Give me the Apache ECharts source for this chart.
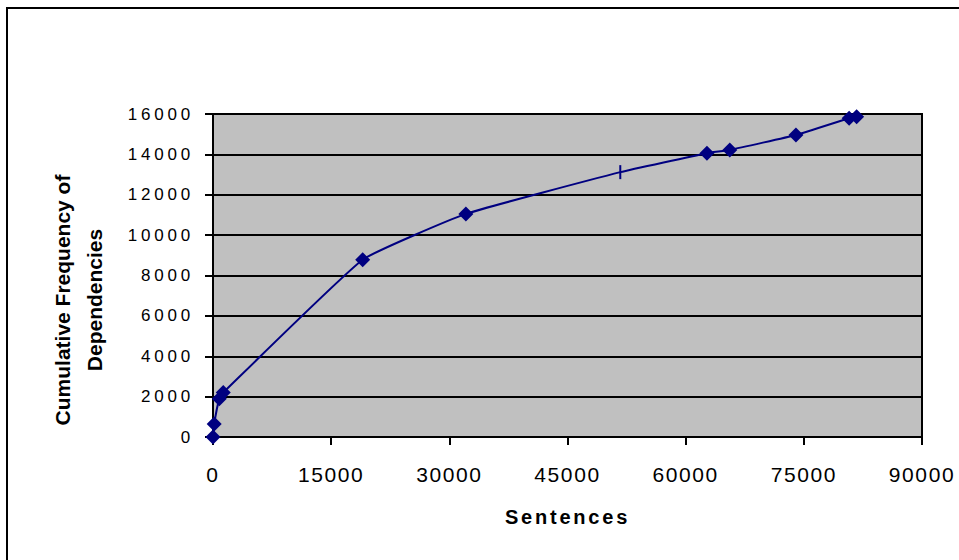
<!DOCTYPE html>
<html>
<head>
<meta charset="utf-8">
<script src="https://cdn.jsdelivr.net/npm/echarts@6/dist/echarts.min.js"></script>
<style>
  html, body { margin: 0; padding: 0; background: #fff; }
  #chart { width: 959px; height: 560px; }
</style>
</head>
<body>
<div id="chart"></div>
<script>
// Cumulative dependency counts against number of sentences
const sentences = [0, 150, 800, 1300, 19000, 32100, 51700, 62700, 65600, 74000, 80750, 81700];
const cumFreq   = [0, 650, 1900, 2200, 8780, 11050, 13120, 14060, 14220, 14960, 15790, 15860];
// the point drawn with a bar marker instead of a diamond
const barMarkIndex = 6;

const xTicks = { min: 0, max: 90000, step: 15000 };
const yTicks = { min: 0, max: 16000, step: 2000 };

const xTitle = 'Sentences';
const yTitle = 'Cumulative Frequency of\nDependencies';

const NAVY = '#000080';
const SANS = '"Liberation Sans", Arial, sans-serif';

// extra character spacing applied to the rendered SVG text
const SPACING = { xLabel: '1.6px', yLabel: '3.8px', xTitle: '2.8px' };

const points = sentences.map((s, i) => {
  const p = { value: [s, cumFreq[i]] };
  if (i === barMarkIndex) {
    p.symbol = 'rect';
    p.symbolSize = [2, 14];
  }
  return p;
});

const chart = echarts.init(document.getElementById('chart'), null, { renderer: 'svg' });

chart.setOption({
  animation: false,
  backgroundColor: '#fff',
  grid: {
    left: 213, right: 37, top: 114, bottom: 123,
    show: true,
    backgroundColor: '#c0c0c0',
    borderColor: '#000',
    borderWidth: 2
  },
  xAxis: {
    type: 'value',
    min: xTicks.min, max: xTicks.max, interval: xTicks.step,
    axisLine: { show: true, onZero: false, lineStyle: { color: '#000', width: 2 } },
    axisTick: { show: true, inside: false, length: 8, lineStyle: { color: '#000', width: 2 } },
    splitLine: { show: false },
    axisLabel: {
      color: '#000', margin: 27,
      fontFamily: SANS, fontSize: 21,
      formatter: v => String(v)
    },
    name: xTitle,
    nameLocation: 'middle',
    nameGap: 70,
    nameTextStyle: { color: '#000', fontWeight: 'bold', fontSize: 20, fontFamily: SANS }
  },
  yAxis: {
    type: 'value',
    min: yTicks.min, max: yTicks.max, interval: yTicks.step,
    axisLine: { show: true, onZero: false, lineStyle: { color: '#000', width: 2 } },
    axisTick: { show: true, inside: false, length: 8, lineStyle: { color: '#000', width: 2 } },
    splitLine: { show: true, lineStyle: { color: '#000', width: 2 } },
    axisLabel: {
      color: '#000', margin: 19,
      fontFamily: SANS, fontSize: 17,
      formatter: v => String(v)
    }
  },
  graphic: [
    {
      type: 'rect', silent: true,
      shape: { x: 7, y: 8, width: 1000, height: 600 },
      style: { fill: 'none', stroke: '#000', lineWidth: 2 }
    },
    {
      type: 'text', silent: true,
      x: 78, y: 300, rotation: Math.PI / 2,
      style: {
        text: yTitle,
        fill: '#000',
        font: 'bold 21px ' + SANS,
        align: 'center', verticalAlign: 'middle',
        lineHeight: 32
      }
    }
  ],
  series: [{
    type: 'line',
    data: points,
    smooth: 0.12,
    symbol: 'diamond',
    symbolSize: 15,
    showAllSymbol: true,
    lineStyle: { color: NAVY, width: 2 },
    itemStyle: { color: NAVY, borderWidth: 0 },
    z: 5
  }]
});

function spaceText() {
  document.querySelectorAll('#chart text').forEach(t => {
    const s = t.textContent;
    if (/^\d+$/.test(s)) {
      const anchor = t.getAttribute('text-anchor') || getComputedStyle(t).textAnchor;
      t.style.letterSpacing = anchor === 'end' ? SPACING.yLabel : SPACING.xLabel;
    } else if (s === xTitle) {
      t.style.letterSpacing = SPACING.xTitle;
    }
  });
}
chart.on('finished', spaceText);
spaceText();
</script>
</body>
</html>
